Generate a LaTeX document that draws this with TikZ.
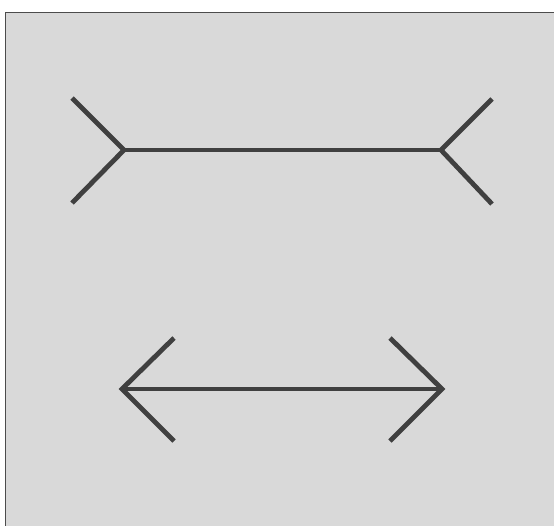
\documentclass[tikz,border=0pt]{standalone}
\begin{document}
\begin{tikzpicture}[x=1pt,y=-1pt,
  fin/.style={draw=black!75,line width=4.8pt,line join=miter}]
\useasboundingbox (0,0) rectangle (554,525);
\fill[white] (0,0) rectangle (554,525);
\filldraw[fill=black!15,draw=black!70,line width=1pt] (5.5,12.5) rectangle (560,530);
% top figure (fins outward)
\coordinate (tl) at (124,150);
\coordinate (tr) at (441,150);
\coordinate (tlu) at (72,98);
\coordinate (tld) at (72,203);
\coordinate (tru) at (492,99);
\coordinate (trd) at (492,204);
\draw[fin] (tlu) -- (tl) -- (tld);
\draw[fin] (tl) -- (tr);
\draw[fin] (tru) -- (tr) -- (trd);
% bottom figure (arrowheads)
\coordinate (bl) at (122,389);
\coordinate (br) at (442,389);
\coordinate (blu) at (174,338);
\coordinate (bld) at (174,441);
\coordinate (bru) at (390,338);
\coordinate (brd) at (390,441);
\draw[fin] (blu) -- (bl) -- (bld);
\draw[fin] (bl) -- (br);
\draw[fin] (bru) -- (br) -- (brd);
\end{tikzpicture}
\end{document}
